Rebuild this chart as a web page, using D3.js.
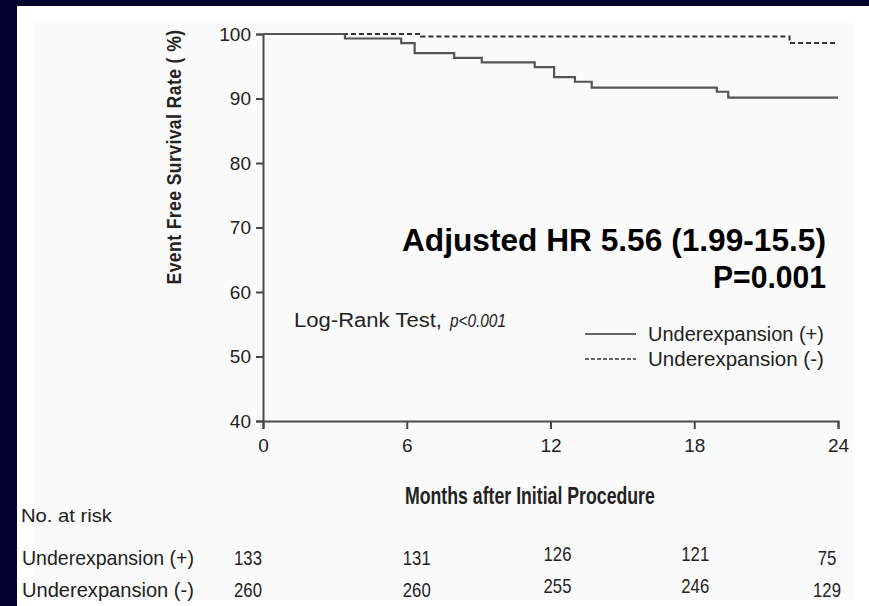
<!DOCTYPE html>
<html>
<head>
<meta charset="utf-8">
<script src="https://cdn.jsdelivr.net/npm/d3@7"></script>
<style>
  html, body { margin: 0; padding: 0; background: #03022f; }
  svg { display: block; }
  text { font-family: "Liberation Sans", Arial, sans-serif; }
</style>
</head>
<body>
<div id="chart"></div>
<script>
// survival steps: [month, rate]
var underPlus = [[0, 100], [3.42, 99.3], [5.77, 98.6], [6.33, 97.05], [7.98, 96.3], [9.13, 95.6],
    [11.34, 94.85], [12.15, 93.3], [13.02, 92.6], [13.72, 91.7], [18.94, 91.05], [19.42, 90.15], [24, 90.15]];
var underMinus = [[0, 100], [6.59, 99.6], [21.98, 98.6], [24, 98.6]];

var yTicks = [40, 50, 60, 70, 80, 90, 100];
var xTicks = [0, 6, 12, 18, 24];

var riskRows = ["Underexpansion (+)", "Underexpansion (-)"];
var riskPlus = [133, 131, 126, 121, 75];
var riskMinus = [260, 260, 255, 246, 129];

var legendLabels = ["Underexpansion (+)", "Underexpansion (-)"];

var W = 869, H = 606;
var margin = {top: 34, left: 263, right: 31, bottom: 185};
var width = W - margin.left - margin.right,
    height = H - margin.top - margin.bottom;

var x = d3.scaleLinear().domain([0, 24]).range([0, width]);
var y = d3.scaleLinear().domain([40, 100]).range([height, 0]);

// squeeze a label horizontally into the width it has on the slide
function squeeze(sel, w, rot) {
    sel.each(function (d) {
        var t = d3.select(this);
        var target = typeof w === 'function' ? w(d) : w;
        var k = target / this.getComputedTextLength();
        var x0 = +t.attr('x'), y0 = +t.attr('y');
        t.attr('x', 0).attr('y', 0)
            .attr('transform', 'translate(' + x0 + ',' + y0 + ')' + (rot ? ' rotate(' + rot + ')' : '') + ' scale(' + k + ',1)');
    });
    return sel;
}

var root = d3.select('#chart')
    .append('svg')
    .attr('width', W)
    .attr('height', H);

// slide background
root.append('rect')
    .attr('width', W).attr('height', H)
    .attr('fill', '#03022f');
root.append('rect')
    .attr('x', 17).attr('y', 6)
    .attr('width', W - 17).attr('height', H - 6)
    .attr('fill', '#ffffff');
root.append('rect')
    .attr('x', 33).attr('y', 22)
    .attr('width', 820).attr('height', 578)
    .attr('fill', '#fbfbfb');

var svg = root.append('g')
    .attr('transform', 'translate(' + margin.left + ',' + margin.top + ')');

// axes
var yAxis = svg.append('g')
    .call(d3.axisLeft(y).tickValues(yTicks).tickSize(7).tickPadding(5));
var xAxis = svg.append('g')
    .attr('transform', 'translate(0,' + height + ')')
    .call(d3.axisBottom(x).tickValues(xTicks).tickSize(8).tickPadding(10));

[yAxis, xAxis].forEach(function (a) {
    a.select('.domain').attr('stroke', '#4a4a4a').attr('stroke-width', 2);
    a.selectAll('.tick line').attr('stroke', '#4a4a4a').attr('stroke-width', 2);
    a.selectAll('.tick text')
        .attr('fill', '#222')
        .style('font-family', '"Liberation Sans", Arial, sans-serif')
        .style('font-size', '19px');
});

// KM curves
var line = d3.line()
    .x(function (d) { return x(d[0]); })
    .y(function (d) { return y(d[1]); })
    .curve(d3.curveStepAfter);

svg.append('path')
    .datum(underMinus)
    .attr('d', line)
    .attr('fill', 'none')
    .attr('stroke', '#333')
    .attr('stroke-width', 2)
    .attr('stroke-dasharray', '5,3');

svg.append('path')
    .datum(underPlus)
    .attr('d', line)
    .attr('fill', 'none')
    .attr('stroke', '#555')
    .attr('stroke-width', 2.2);

// y title
root.append('text')
    .attr('x', 181).attr('y', 157)
    .attr('text-anchor', 'middle')
    .style('font-weight', 'bold')
    .style('font-size', '21px')
    .style('letter-spacing', '0.5px')
    .attr('fill', '#222')
    .text('Event Free Survival Rate ( %)')
    .call(squeeze, 255, -90);

// x title
root.append('text')
    .attr('x', 405).attr('y', 504)
    .style('font-weight', 'bold')
    .style('font-size', '23px')
    .attr('fill', '#222')
    .text('Months after Initial Procedure')
    .call(squeeze, 250);

// HR annotation
root.append('text')
    .attr('x', 402).attr('y', 251)
    .style('font-weight', 'bold')
    .style('font-size', '31px')
    .attr('fill', '#000')
    .text('Adjusted HR 5.56 (1.99-15.5)')
    .call(squeeze, 424);
root.append('text')
    .attr('x', 826).attr('y', 288)
    .attr('text-anchor', 'end')
    .style('font-weight', 'bold')
    .style('font-size', '31px')
    .attr('fill', '#000')
    .text('P=0.001')
    .call(squeeze, 113);

// log-rank
root.append('text')
    .attr('x', 294).attr('y', 327)
    .style('font-size', '20px')
    .attr('fill', '#222')
    .text('Log-Rank Test,')
    .call(squeeze, 148);
root.append('text')
    .attr('x', 450).attr('y', 327)
    .style('font-size', '19px')
    .style('font-style', 'italic')
    .attr('fill', '#222')
    .text('p<0.001')
    .call(squeeze, 56);

// legend
var legend = root.append('g').attr('transform', 'translate(585,334)');
legendLabels.forEach(function (lab, i) {
    legend.append('line')
        .attr('x1', 0).attr('x2', 51)
        .attr('y1', i * 25).attr('y2', i * 25)
        .attr('stroke', '#333')
        .attr('stroke-width', 1.4)
        .attr('stroke-dasharray', i === 0 ? null : '4,2');
    legend.append('text')
        .attr('x', 63).attr('y', i * 25 + 7)
        .style('font-size', '21px')
        .attr('fill', '#222')
        .text(lab)
        .call(squeeze, 176);
});

// number at risk table
root.append('text')
    .attr('x', 21).attr('y', 522)
    .style('font-size', '18px')
    .attr('fill', '#222')
    .text('No. at risk')
    .call(squeeze, 91);

var riskData = [riskPlus, riskMinus];
var rowY = [565, 597];
var colShift = [-15, 10, 7, 1, -11];
riskRows.forEach(function (lab, r) {
    root.append('text')
        .attr('x', 22).attr('y', rowY[r])
        .style('font-size', '20px')
        .attr('fill', '#222')
        .text(lab)
        .call(squeeze, 172);
    root.selectAll(null)
        .data(riskData[r])
        .enter()
        .append('text')
        .attr('x', function (d, i) { return margin.left + x(xTicks[i]) + colShift[i]; })
        .attr('y', function (d, i) { return rowY[r] - (i === 2 || i === 3 ? 4 : 0); })
        .attr('text-anchor', 'middle')
        .style('font-size', '20px')
        .attr('fill', '#222')
        .text(function (d) { return d; })
        .call(squeeze, function (d) { return String(d).length * 9.3; });
});
</script>
</body>
</html>
